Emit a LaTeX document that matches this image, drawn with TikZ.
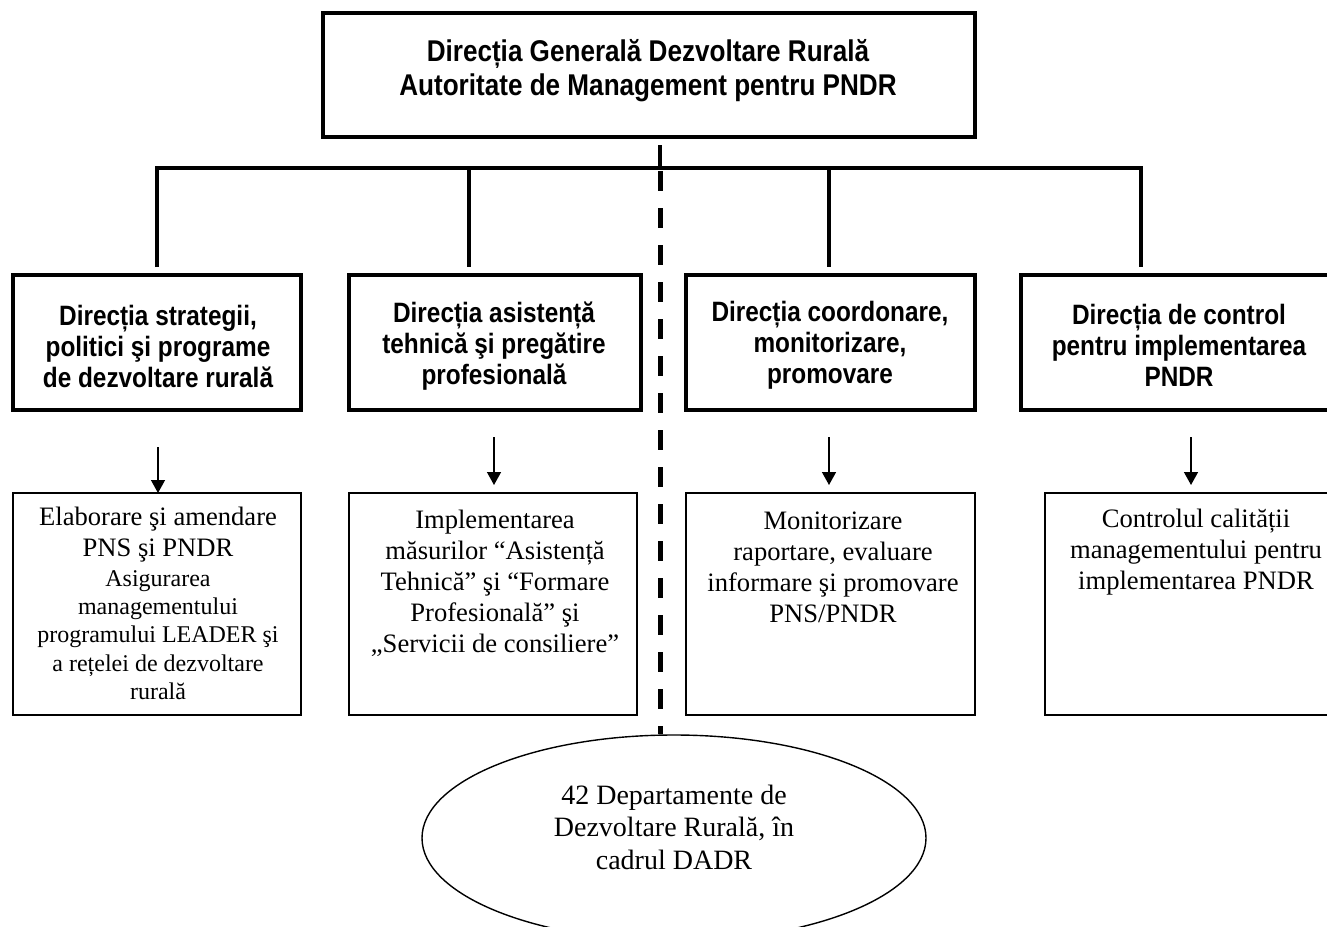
\documentclass[tikz,border=0pt]{standalone}
\usepackage{fontspec}
\setmainfont{Liberation Serif}
\newfontfamily\hdfont[FakeStretch=0.87]{Liberation Sans}
\usetikzlibrary{shapes.geometric,arrows.meta}
\tikzset{
  thickbox/.style={draw, line width=4.5pt, inner sep=0pt, outer sep=0pt},
  thinbox/.style={draw, line width=1.4pt, inner sep=0pt, outer sep=0pt},
  hdr/.style={align=center, inner sep=0pt, font=\hdfont\bfseries\fontsize{28}{31}\selectfont},
  tophdr/.style={align=center, inner sep=0pt, font=\hdfont\bfseries\fontsize{30}{34}\selectfont},
  body/.style={align=center, inner sep=0pt, font=\fontsize{26.6}{31}\selectfont},
  smallbody/.style={align=center, inner sep=0pt, font=\fontsize{24}{28.2}\selectfont},
  conn/.style={line width=4pt, line join=miter},
  arr/.style={line width=1.4pt, -{Triangle[length=13pt,width=14pt]}},
  divline/.style={line width=5pt, dash pattern=on 20pt off 17pt, dash phase=34pt}
}
\begin{document}
\begin{tikzpicture}[x=1pt,y=-1pt]
\useasboundingbox (0,0) rectangle (1327,926);
\clip (0,0) rectangle (1327,926);

% top box
\node[thickbox, minimum width=652pt, minimum height=124pt] (top) at (649,75) {};
\node[tophdr] (toptext) at (648,71) {Direcția Generală Dezvoltare Rurală\\Autoritate de Management pentru PNDR};

% second level boxes
\node[thickbox, minimum width=288pt, minimum height=135pt] (b1) at (157,342.5) {};
\node[thickbox, minimum width=292pt, minimum height=135pt] (b2) at (495,342.5) {};
\node[thickbox, minimum width=289pt, minimum height=135pt] (b3) at (830.5,342.5) {};
\node[thickbox, minimum width=316pt, minimum height=135pt] (b4) at (1179,342.5) {};
\node[hdr] (t1) at (158,346) {Direcția strategii,\\politici şi programe\\de dezvoltare rurală};
\node[hdr] (t2) at (494,346) {Direcția asistență\\tehnică şi pregătire\\profesională};
\node[hdr] (t3) at (830,345) {Direcția coordonare,\\monitorizare,\\promovare};
\node[hdr] (t4) at (1179,345) {Direcția de control\\pentru implementarea\\PNDR};

% connectors
\coordinate (stemtop) at (660,145);
\coordinate (bar) at (660,168);
\coordinate (d1) at (157,267);
\coordinate (d2) at (469,267);
\coordinate (d3) at (829,267);
\coordinate (d4) at (1141,267);
\draw[conn] (stemtop) -- (bar);
\draw[conn] (d1) -- (d1 |- bar) -- (d4 |- bar) -- (d4);
\draw[conn] (d2 |- bar) -- (d2);
\draw[conn] (d3 |- bar) -- (d3);

% lower boxes
\node[thinbox, minimum width=288pt, minimum height=222pt] (l1) at (157,604) {};
\node[thinbox, minimum width=288pt, minimum height=222pt] (l2) at (493,604) {};
\node[thinbox, minimum width=289pt, minimum height=222pt] (l3) at (830.5,604) {};
\node[thinbox, minimum width=300pt, minimum height=222pt] (l4) at (1195,604) {};

\node[body] (x1a) at (158,535) {Elaborare şi amendare\\PNS şi PNDR};
\node[smallbody] (x1b) at (158,635) {Asigurarea\\managementului\\programului LEADER şi\\a rețelei de dezvoltare\\rurală};
\node[body] (x2) at (495,583) {Implementarea\\măsurilor “Asistență\\Tehnică” şi “Formare\\Profesională” şi\\„Servicii de consiliere”};
\node[body] (x3) at (833,567) {Monitorizare\\raportare, evaluare\\informare şi promovare\\PNS/PNDR};
\node[body] (x4) at (1196,552) {Controlul calității\\managementului pentru\\implementarea PNDR};

% arrows
\coordinate (a1) at (158,447);
\coordinate (a2) at (494,437);
\coordinate (a3) at (829,437);
\coordinate (a4) at (1191,437);
\draw[arr] (a1) -- (a1 |- l1.north);
\draw[arr] (a2) -- ([yshift=8pt]a2 |- l2.north);
\draw[arr] (a3) -- ([yshift=8pt]a3 |- l3.north);
\draw[arr] (a4) -- ([yshift=8pt]a4 |- l4.north);

% ellipse
\node[draw, ellipse, line width=1.4pt, minimum width=504pt, minimum height=206pt, inner sep=0pt] (ell) at (674,838) {};
\node[body, font=\fontsize{28}{32.5}\selectfont] (ellt) at (674,827) {42 Departamente de\\Dezvoltare Rurală, în\\cadrul DADR};

% dashed divider
\draw[divline] (bar) -- (bar |- ell.north);
\end{tikzpicture}
\end{document}
